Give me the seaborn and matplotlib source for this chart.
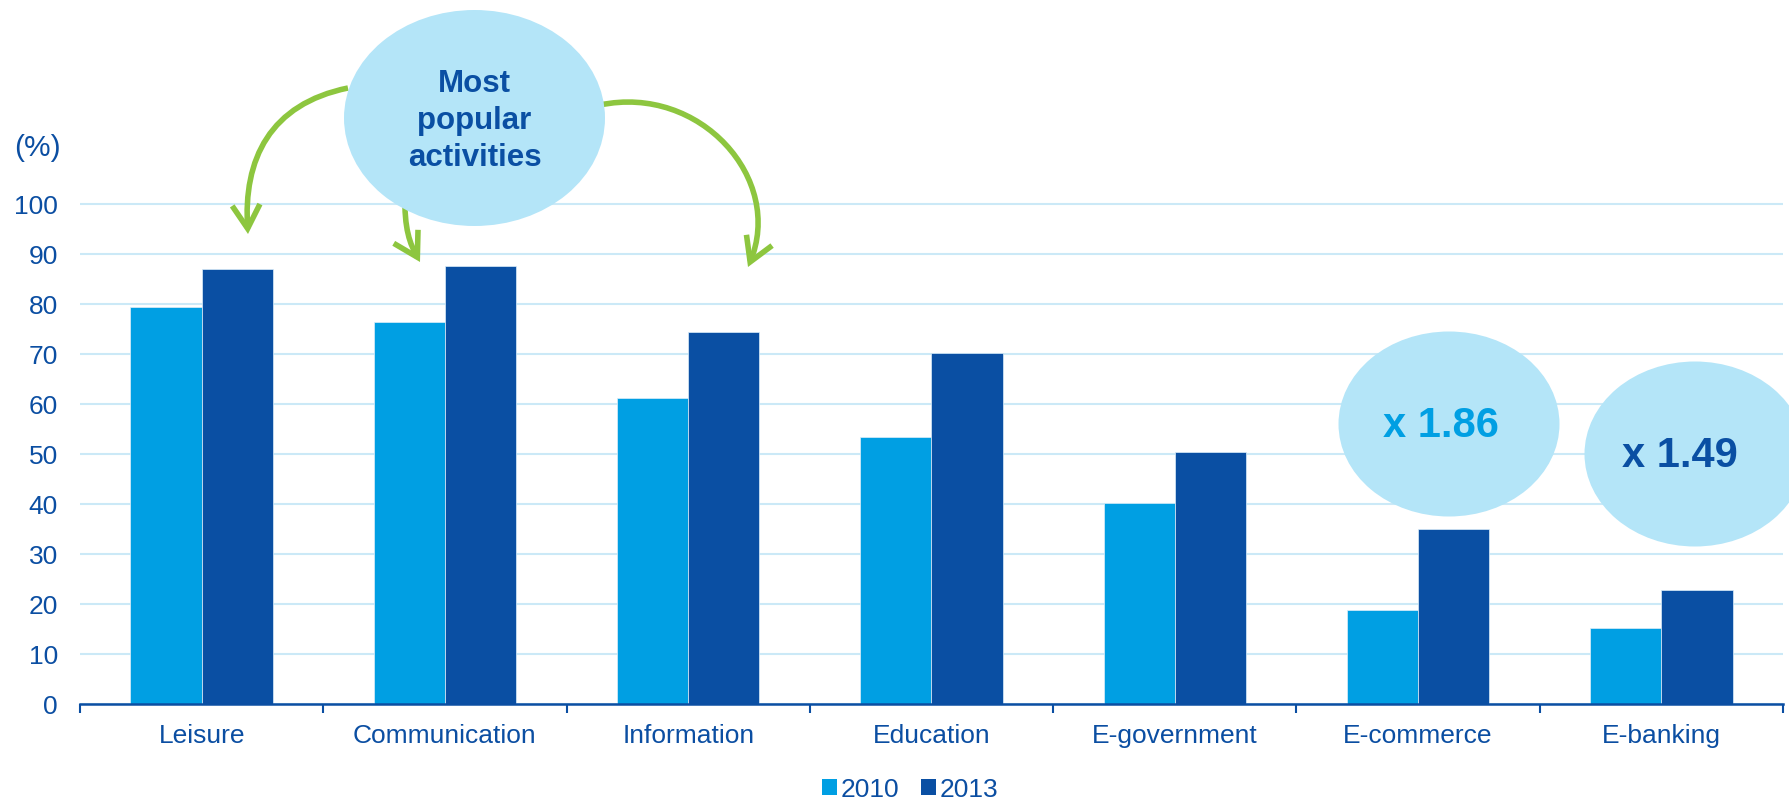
import matplotlib
matplotlib.use("Agg")
import matplotlib.pyplot as plt
import seaborn as sns
import pandas as pd
from matplotlib.patches import Ellipse, FancyArrowPatch, Patch, ArrowStyle
from matplotlib.path import Path
from matplotlib.ticker import FixedLocator

# ---- data -------------------------------------------------------------
activities = ["Leisure", "Communication", "Information", "Education",
              "E-government", "E-commerce", "E-banking"]
share_2010 = [79.4, 76.4, 61.2, 53.5, 40.3, 18.9, 15.3]
share_2013 = [87.1, 87.7, 74.5, 70.3, 50.4, 35.1, 22.8]
years = ["2010", "2013"]
y_ticks = [0, 10, 20, 30, 40, 50, 60, 70, 80, 90, 100]
growth_labels = ["x 1.86", "x 1.49"]
bubble_label = "Most\npopular\nactivities"

df = pd.DataFrame({
    "activity": activities * 2,
    "share": share_2010 + share_2013,
    "year": [years[0]] * len(activities) + [years[1]] * len(activities),
})

# ---- style ------------------------------------------------------------
LIGHT = "#009FE3"
DARK = "#0A4FA3"
TEXT = "#0B4EA2"
BUBBLE = "#B4E5F8"
GREEN = "#8DC63F"
GRID = "#CBE9F7"

sns.set_theme(style="white")
plt.rcParams["font.family"] = ["Liberation Sans", "DejaVu Sans"]

W, H = 1790, 803
fig = plt.figure(figsize=(W / 100, H / 100), dpi=100)
fig.patch.set_facecolor("white")


def fx(x, y):
    """pixel position (from top-left) -> figure fraction"""
    return x / W, 1 - y / H


ax = fig.add_axes([80 / W, (H - 705) / H, 1703 / W, 505 / H])

sns.barplot(data=df, x="activity", y="share", hue="year",
            palette=[LIGHT, DARK], saturation=1, width=0.585, ax=ax,
            edgecolor="#DDEFFA", linewidth=0.5, legend=False, zorder=2)

ax.set_xlim(-0.5, len(activities) - 0.5)
ax.set_ylim(0, 101)
ax.set_yticks(y_ticks)
ax.set_xlabel("")
ax.set_ylabel("")

# gridlines
ax.yaxis.grid(True, color=GRID, linewidth=1.5, zorder=0)
ax.set_axisbelow(True)

for side in ["top", "right", "left"]:
    ax.spines[side].set_visible(False)
ax.spines["bottom"].set_color(TEXT)
ax.spines["bottom"].set_linewidth(1.8)
ax.spines["bottom"].set_zorder(3)

ax.tick_params(axis="y", length=0, pad=16, labelsize=19, labelcolor=TEXT)
ax.tick_params(axis="x", which="major", length=0, pad=14, labelsize=19,
               labelcolor=TEXT)
ax.xaxis.set_minor_locator(FixedLocator(
    [i - 0.5 for i in range(len(activities) + 1)]))
ax.tick_params(axis="x", which="minor", bottom=True, length=6.5, width=1.5,
               color=TEXT, direction="out")

# unit label
fig.text(*fx(14, 148), "(%)", fontsize=21.5, color=TEXT, ha="left",
         va="center")

# legend
handles = [Patch(facecolor=LIGHT, edgecolor="none", label=years[0]),
           Patch(facecolor=DARK, edgecolor="none", label=years[1])]
leg = fig.legend(handles=handles, loc="center", bbox_to_anchor=fx(910, 790),
                 ncol=2, frameon=False, fontsize=19, handlelength=0.57,
                 handleheight=0.57, handletextpad=0.15, columnspacing=0.8)
for t in leg.get_texts():
    t.set_color(TEXT)

# curved arrows from the bubble to the top three activities
arrow_paths = [
    [(348, 89), (270, 105), (243, 160), (248, 235)],
    [(405, 195), (404, 230), (410, 245), (420, 263)],
    [(600, 106), (700, 85), (785, 180), (748, 268)],
]
for pts in arrow_paths:
    verts = [fx(x, y) for x, y in pts]
    path = Path(verts, [Path.MOVETO, Path.CURVE4, Path.CURVE4, Path.CURVE4])
    arr = FancyArrowPatch(path=path, transform=fig.transFigure,
                          arrowstyle=ArrowStyle("->", head_length=0.85,
                                                head_width=0.5),
                          mutation_scale=20, linewidth=4, color=GREEN,
                          joinstyle="miter", capstyle="butt", zorder=1.5)
    fig.add_artist(arr)

# bubbles
bubbles = [
    ((474.5, 119), 261, 216),
    ((1449, 425), 221, 185),
    ((1695, 455), 221, 185),
]
for (cx, cy), bw, bh in bubbles:
    e = Ellipse(fx(cx, cy), bw / W, bh / H, transform=fig.transFigure,
                facecolor=BUBBLE, edgecolor="none", zorder=2)
    fig.add_artist(e)

fig.text(*fx(474.5, 121), bubble_label, fontsize=22.5, fontweight="bold",
         color=DARK, ha="center", va="center", linespacing=1.32, zorder=3)
fig.text(*fx(1441, 426), growth_labels[0], fontsize=30, fontweight="bold",
         color=LIGHT, ha="center", va="center", zorder=3)
fig.text(*fx(1680, 456), growth_labels[1], fontsize=30, fontweight="bold",
         color=DARK, ha="center", va="center", zorder=3)

fig.savefig("out.png", dpi=100, facecolor="white")
